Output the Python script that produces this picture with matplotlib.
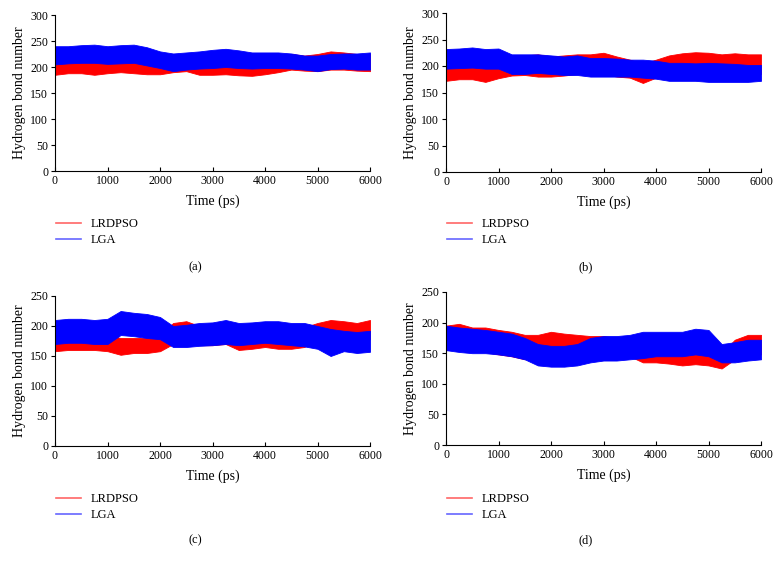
import matplotlib
matplotlib.use("Agg")
import matplotlib.pyplot as plt
from matplotlib.lines import Line2D

plt.rcParams['font.family'] = ['Liberation Serif', 'DejaVu Serif']

# time axis (ps), envelopes every 250 ps
time = [0, 250, 500, 750, 1000, 1250, 1500, 1750, 2000, 2250, 2500, 2750, 3000,
        3250, 3500, 3750, 4000, 4250, 4500, 4750, 5000, 5250, 5500, 5750, 6000]

# (a)
a_lga_lo = [205, 207, 208, 208, 206, 207, 208, 203, 198, 192, 195, 197, 198,
            200, 198, 197, 198, 198, 197, 195, 192, 196, 197, 195, 195]
a_lga_hi = [240, 240, 242, 243, 240, 242, 243, 238, 230, 226, 228, 230, 233,
            235, 232, 228, 228, 228, 226, 222, 222, 225, 226, 226, 228]
a_pso_lo = [185, 188, 188, 185, 188, 190, 188, 186, 186, 190, 192, 185, 185,
            186, 184, 183, 186, 190, 195, 193, 192, 195, 195, 193, 192]
a_pso_hi = [215, 213, 212, 212, 215, 215, 213, 210, 210, 215, 222, 208, 210,
            210, 208, 208, 210, 218, 225, 222, 225, 230, 228, 225, 225]

# (b)
b_lga_lo = [195, 196, 197, 195, 195, 185, 185, 187, 185, 183, 183, 180, 180,
            180, 180, 178, 176, 172, 172, 172, 170, 170, 170, 170, 172]
b_lga_hi = [232, 233, 235, 232, 233, 222, 222, 222, 220, 218, 220, 215, 215,
            214, 212, 212, 210, 206, 206, 205, 206, 205, 204, 202, 202]
b_pso_lo = [172, 175, 175, 170, 177, 182, 183, 180, 180, 182, 185, 185, 185,
            180, 178, 168, 178, 185, 192, 193, 192, 190, 190, 188, 185]
b_pso_hi = [205, 207, 205, 202, 207, 215, 220, 222, 218, 220, 222, 222, 225,
            218, 212, 205, 212, 220, 224, 226, 225, 222, 224, 222, 222]

# (c)
c_lga_lo = [170, 172, 172, 170, 170, 185, 183, 180, 178, 165, 165, 167, 168,
            170, 168, 170, 172, 170, 168, 166, 162, 150, 158, 155, 157]
c_lga_hi = [210, 212, 212, 210, 212, 225, 222, 220, 215, 200, 202, 205, 206,
            210, 205, 206, 208, 208, 205, 205, 200, 195, 192, 190, 192]
c_pso_lo = [158, 160, 160, 160, 158, 152, 155, 155, 158, 170, 170, 168, 168,
            170, 160, 162, 165, 162, 162, 165, 178, 180, 178, 175, 178]
c_pso_hi = [185, 183, 185, 185, 185, 180, 180, 180, 185, 205, 208, 200, 200,
            205, 185, 190, 195, 190, 190, 198, 205, 210, 208, 205, 210]

# (d)
d_lga_lo = [155, 152, 150, 150, 148, 145, 140, 130, 128, 128, 130, 135, 138,
            138, 140, 142, 145, 145, 145, 148, 145, 135, 135, 138, 140]
d_lga_hi = [195, 192, 190, 188, 185, 182, 175, 165, 162, 162, 165, 175, 178,
            178, 180, 185, 185, 185, 185, 190, 188, 165, 168, 172, 172]
d_pso_lo = [155, 158, 155, 152, 148, 145, 140, 150, 152, 150, 148, 145, 145,
            145, 145, 135, 135, 133, 130, 132, 130, 125, 140, 150, 148]
d_pso_hi = [195, 198, 192, 192, 188, 185, 180, 180, 185, 182, 180, 178, 178,
            175, 178, 165, 160, 160, 158, 162, 160, 150, 172, 180, 180]

panels = [
    ("(a)", a_pso_lo, a_pso_hi, a_lga_lo, a_lga_hi, 300),
    ("(b)", b_pso_lo, b_pso_hi, b_lga_lo, b_lga_hi, 300),
    ("(c)", c_pso_lo, c_pso_hi, c_lga_lo, c_lga_hi, 250),
    ("(d)", d_pso_lo, d_pso_hi, d_lga_lo, d_lga_hi, 250),
]

W, H = 782, 567
fig = plt.figure(figsize=(W / 100, H / 100), dpi=100)

# axes boxes in pixels: left, top, right, bottom
boxes = [(55, 15, 370, 171), (446, 13, 761, 172),
         (55, 296, 370, 446), (446, 292, 761, 445)]
half_centers = [195, 586, 195, 586]
tag_y = [267, 267, 540, 540]
leg_top = [213, 213, 488, 488]

red = '#ff0000'
blue = '#0000ff'

for (tag, plo, phi, glo, ghi, ymax), (l, t, r, b), cx, ty, ly in zip(
        panels, boxes, half_centers, tag_y, leg_top):
    ax = fig.add_axes([l / W, 1 - b / H, (r - l) / W, (b - t) / H])
    ax.fill_between(time, plo, phi, color=red, lw=0.6, edgecolor=red)
    ax.fill_between(time, glo, ghi, color=blue, lw=0.6, edgecolor=blue)
    ax.set_xlim(0, 6000)
    ax.set_ylim(0, ymax)
    ax.set_xticks(range(0, 6001, 1000))
    ax.set_yticks(range(0, ymax + 1, 50))
    for s in ['top', 'right']:
        ax.spines[s].set_visible(False)
    ax.spines['left'].set_linewidth(0.8)
    ax.spines['bottom'].set_linewidth(0.8)
    ax.tick_params(axis='x', direction='in', length=3, width=0.8, labelsize=8.5, pad=3)
    ax.tick_params(axis='y', direction='out', length=3, width=0.8, labelsize=8.5, pad=2)
    ax.set_xlabel('Time (ps)', fontsize=10, labelpad=5)
    ax.set_ylabel('Hydrogen bond number', fontsize=10, labelpad=3)

    handles = [Line2D([], [], color=red, alpha=0.6, lw=1.2),
               Line2D([], [], color=blue, alpha=0.6, lw=1.2)]
    fig.legend(handles, ['LRDPSO', 'LGA'], loc='upper left',
               bbox_to_anchor=((l - 4) / W, 1 - ly / H), frameon=False,
               fontsize=9, handlelength=2.0, handletextpad=0.8,
               labelspacing=0.35, borderaxespad=0)
    fig.text(cx / W, 1 - ty / H, tag, ha='center', va='center', fontsize=9)

fig.savefig('out.png', dpi=100)
